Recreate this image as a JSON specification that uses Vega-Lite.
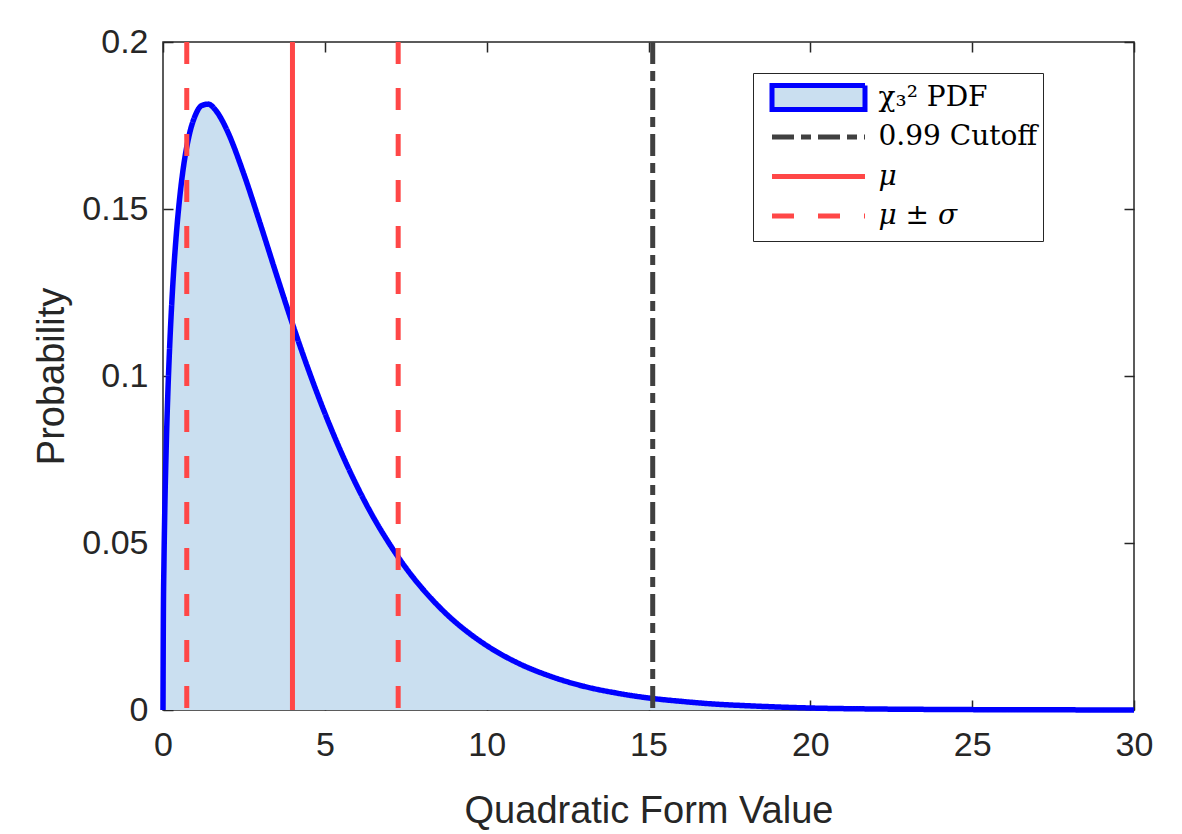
{
  "$schema": "https://vega.github.io/schema/vega-lite/v6.json",
  "width": 971,
  "height": 668,
  "autosize": {"type": "none"},
  "padding": {"left": 163, "top": 42, "right": 48, "bottom": 124},
  "background": "white",
  "config": {
    "view": {"stroke": "#262626", "strokeWidth": 1.5},
    "axis": {
      "labelFont": "Liberation Sans",
      "titleFont": "Liberation Sans",
      "labelFontSize": 34,
      "titleFontSize": 38,
      "titleFontWeight": "normal",
      "labelColor": "#262626",
      "titleColor": "#262626",
      "tickColor": "#262626",
      "tickWidth": 1.5,
      "tickSize": -10,
      "domain": false,
      "grid": false
    }
  },
  "datasets": {
    "pdf": [
      {"x": 0, "p": 0},
      {"x": 0.01, "p": 0.0258},
      {"x": 0.03, "p": 0.0444},
      {"x": 0.05, "p": 0.0569},
      {"x": 0.1, "p": 0.0789},
      {"x": 0.15, "p": 0.0949},
      {"x": 0.2, "p": 0.1075},
      {"x": 0.3, "p": 0.1268},
      {"x": 0.4, "p": 0.141},
      {"x": 0.5, "p": 0.1519},
      {"x": 0.6, "p": 0.1603},
      {"x": 0.8, "p": 0.1717},
      {"x": 1.0, "p": 0.1781},
      {"x": 1.2, "p": 0.181},
      {"x": 1.4, "p": 0.1814},
      {"x": 1.6, "p": 0.1799},
      {"x": 1.8, "p": 0.177},
      {"x": 2.0, "p": 0.1731},
      {"x": 2.5, "p": 0.1604},
      {"x": 3.0, "p": 0.1457},
      {"x": 3.5, "p": 0.1305},
      {"x": 4.0, "p": 0.1156},
      {"x": 4.5, "p": 0.1017},
      {"x": 5.0, "p": 0.0889},
      {"x": 5.5, "p": 0.0773},
      {"x": 6.0, "p": 0.0669},
      {"x": 6.5, "p": 0.0577},
      {"x": 7.0, "p": 0.0497},
      {"x": 7.5, "p": 0.0426},
      {"x": 8.0, "p": 0.0365},
      {"x": 8.5, "p": 0.0312},
      {"x": 9.0, "p": 0.0266},
      {"x": 9.5, "p": 0.0227},
      {"x": 10, "p": 0.0193},
      {"x": 11, "p": 0.0139},
      {"x": 12, "p": 0.01},
      {"x": 13, "p": 0.0071},
      {"x": 14, "p": 0.0051},
      {"x": 15, "p": 0.0036},
      {"x": 16, "p": 0.0026},
      {"x": 17, "p": 0.0018},
      {"x": 18, "p": 0.0013},
      {"x": 19, "p": 0.0009},
      {"x": 20, "p": 0.0006},
      {"x": 22, "p": 0.0003},
      {"x": 24, "p": 0.00016},
      {"x": 26, "p": 0.00008},
      {"x": 28, "p": 0.00004},
      {"x": 30, "p": 0.00002}
    ],
    "refs": [
      {"x": 15.13, "series": "0.99 Cutoff"},
      {"x": 4.0, "series": "μ"},
      {"x": 0.734, "series": "μ ± σ"},
      {"x": 7.266, "series": "μ ± σ"}
    ]
  },
  "resolve": {"axis": {"x": "independent", "y": "independent"}},
  "layer": [
    {
      "data": {"name": "pdf"},
      "mark": {"type": "area", "color": "#CADFF0", "interpolate": "monotone"},
      "encoding": {
        "x": {
          "field": "x", "type": "quantitative",
          "scale": {"domain": [0, 30], "nice": false, "zero": false},
          "axis": {"orient": "bottom", "values": [0, 5, 10, 15, 20, 25, 30], "labelPadding": 28, "title": "Quadratic Form Value", "titlePadding": 30, "labelFlush": false}
        },
        "y": {
          "field": "p", "type": "quantitative",
          "scale": {"domain": [0, 0.2], "nice": false},
          "axis": {"orient": "left", "values": [0, 0.05, 0.1, 0.15, 0.2], "format": "~g", "labelPadding": 25, "title": "Probability", "titlePadding": 10, "labelFlush": false}
        }
      }
    },
    {
      "data": {"name": "pdf"},
      "mark": {"type": "line", "strokeWidth": 5.5, "interpolate": "monotone", "strokeJoin": "round"},
      "encoding": {
        "x": {
          "field": "x", "type": "quantitative",
          "axis": {"orient": "top", "values": [0, 5, 10, 15, 20, 25, 30], "labels": false, "title": null}
        },
        "y": {
          "field": "p", "type": "quantitative",
          "axis": {"orient": "right", "values": [0, 0.05, 0.1, 0.15, 0.2], "labels": false, "title": null}
        },
        "stroke": {
          "datum": "χ₃² PDF", "type": "nominal",
          "scale": {"domain": ["χ₃² PDF", "0.99 Cutoff", "μ", "μ ± σ"], "range": ["#0000FF", "#404040", "#FF4747", "#FF4747"]},
          "legend": {
            "title": null, "orient": "none", "legendX": 590, "legendY": 31,
            "symbolType": "stroke", "symbolSize": 8649, "symbolStrokeWidth": 5,
            "clipHeight": 39, "rowPadding": 0.5, "padding": 5, "symbolOffset": 11.5, "labelOffset": 11,
            "labelFont": "DejaVu Serif", "labelFontSize": 28, "labelColor": "#000000", "labelLimit": 400,
            "strokeColor": "#262626", "fillColor": "white",
            "encode": {
              "symbols": {"update": {
                "shape": {"signal": "datum.value === 'χ₃² PDF' ? 'M-1,-0.26H1V0.26H-1Z' : 'stroke'"},
                "fill": {"signal": "datum.value === 'χ₃² PDF' ? '#CADFF0' : 'transparent'"}
              }},
              "labels": {"update": {
                "fontStyle": {"signal": "(datum.value === 'μ' || datum.value === 'μ ± σ') ? 'italic' : 'normal'"}
              }}
            }
          }
        },
        "strokeDash": {
          "datum": "χ₃² PDF", "type": "nominal",
          "scale": {"domain": ["χ₃² PDF", "0.99 Cutoff", "μ", "μ ± σ"], "range": [[1, 0], [22, 7, 10, 7], [1, 0], [22, 24]]},
          "legend": {
            "title": null, "orient": "none", "legendX": 590, "legendY": 31,
            "symbolType": "stroke", "symbolSize": 8649, "symbolStrokeWidth": 5,
            "clipHeight": 39, "rowPadding": 0.5, "padding": 5, "symbolOffset": 11.5, "labelOffset": 11,
            "labelFont": "DejaVu Serif", "labelFontSize": 28, "labelColor": "#000000", "labelLimit": 400,
            "strokeColor": "#262626", "fillColor": "white",
            "encode": {
              "symbols": {"update": {
                "shape": {"signal": "datum.value === 'χ₃² PDF' ? 'M-1,-0.26H1V0.26H-1Z' : 'stroke'"},
                "fill": {"signal": "datum.value === 'χ₃² PDF' ? '#CADFF0' : 'transparent'"}
              }},
              "labels": {"update": {
                "fontStyle": {"signal": "(datum.value === 'μ' || datum.value === 'μ ± σ') ? 'italic' : 'normal'"}
              }}
            }
          }
        }
      }
    },
    {
      "data": {"name": "refs"},
      "mark": {"type": "rule", "strokeWidth": 5},
      "encoding": {
        "x": {"field": "x", "type": "quantitative", "axis": null},
        "stroke": {"field": "series", "type": "nominal", "scale": {"domain": ["χ₃² PDF", "0.99 Cutoff", "μ", "μ ± σ"], "range": ["#0000FF", "#404040", "#FF4747", "#FF4747"]}, "legend": null},
        "strokeDash": {"field": "series", "type": "nominal", "scale": {"domain": ["χ₃² PDF", "0.99 Cutoff", "μ", "μ ± σ"], "range": [[1, 0], [22, 7, 10, 7], [1, 0], [22, 24]]}, "legend": null}
      }
    }
  ]
}
